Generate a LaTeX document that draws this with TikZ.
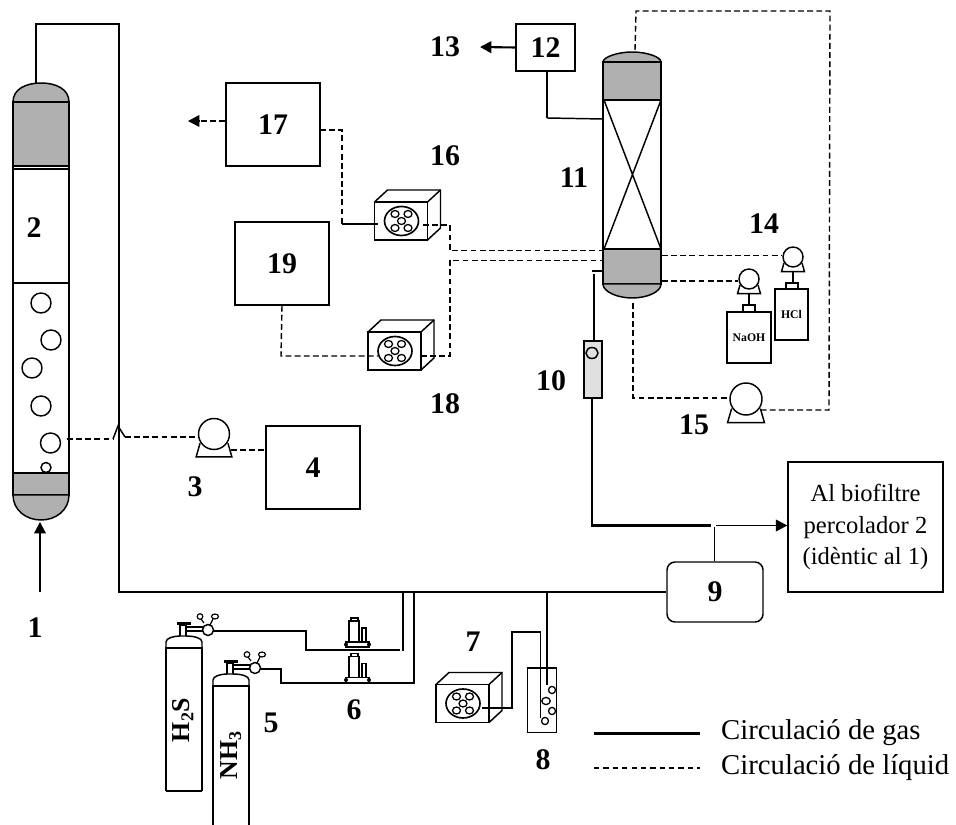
\documentclass[tikz,border=0pt]{standalone}
\usepackage{fontspec}
\setmainfont{Liberation Serif}
\usepackage{tikz}
\usetikzlibrary{arrows.meta, calc, positioning}
\tikzset{
  wall/.style     = {draw, line width=1.25pt},
  gas/.style      = {line width=1.8pt},
  gasthin/.style  = {line width=1.25pt},
  liquid/.style   = {line width=1.2pt, dash pattern=on 5pt off 2.8pt},
  tip/.style      = {-{Triangle[length=3.4mm, width=3.5mm]}},
  num/.style      = {font=\bfseries\fontsize{25.5}{25.5}\selectfont, inner sep=0pt},
  bigbox/.style   = {wall, num, minimum width=2.82cm, minimum height=2.49cm},
  txt/.style      = {font=\fontsize{21}{27}\selectfont, inner sep=0pt},
  legendtxt/.style= {font=\fontsize{24.5}{24.5}\selectfont, inner sep=0pt, anchor=west},
  fanfront/.style = {wall, inner sep=0pt, minimum width=1.59cm, minimum height=1.14cm},
  pumphead/.style = {circle, wall, inner sep=0pt, fill=white},
  tank/.style     = {wall, inner sep=0pt, fill=white},
  small/.style    = {font=\bfseries\fontsize{10}{10}\selectfont, inner sep=0pt},
  grayzone/.style = {fill=black!31, draw, line width=1.25pt},
}
\newcommand{\pumpsketch}[4]{%
  \node[pumphead, minimum size={#4*0.06cm}] (#1) at (#2,#3) {};
  \draw[line width=1.25pt] (#2-0.9*#4,#3+0.6*#4) -- (#2-1.15*#4,#3+1.47*#4) -- (#2+1.15*#4,#3+1.47*#4) -- (#2+0.9*#4,#3+0.6*#4);
}
\newcommand{\fansketch}[3]{%
  \begin{scope}[shift={(#2,#3)}]
    \node[fanfront] (#1) at (26.5,19) {};
    \draw[line width=1.25pt] (0,0) -- (13,-12) -- (66,-12) -- (66,26) -- (53,38);
    \draw[line width=1.25pt] (53,0) -- (66,-12);
    \draw[line width=1.4pt] (27,19) ellipse [x radius=17, y radius=14.5];
    \foreach \dx/\dy in {0/0,-6.5/-7,6.5/-7,-6.5/7,6.5/7}
      \draw[line width=1.1pt] (27+\dx,19+\dy) ellipse [x radius=4, y radius=3.5];
  \end{scope}
}
\newcommand{\cylsketch}[3]{%
  \begin{scope}[shift={(#1,#2)}]
    \draw[line width=1.25pt] (166,#3) -- (166,648) -- (202,648) -- (202,#3);
    \draw[line width=1.25pt] (166,648) -- (166,642) .. controls (166,638) and (174,636) .. (180,636) -- (186,636) .. controls (194,636) and (202,638) .. (202,642) -- (202,648);
    \draw[line width=1.25pt] (180,636) -- (180,625) -- (186,625) -- (186,636);
    \fill (177,622) rectangle (191,625);
    \draw[line width=1pt] (186,627) -- (203,627);
    \draw[line width=1pt] (186,631) -- (203,631);
    \draw[line width=1.25pt, fill=white] (208,630) circle [radius=5.5];
    \draw[line width=1pt] (204,623) -- (201,619);
    \draw[line width=1pt] (210,625) -- (213,619);
    \draw[line width=1pt] (200,616.5) circle [radius=2.8];
    \draw[line width=1pt] (215,616.5) ellipse [x radius=3.5, y radius=2.5];
  \end{scope}
}
\newcommand{\regsketch}[2]{%
  \begin{scope}[shift={(#1,#2)}]
    \draw[line width=1.25pt] (346,642) rectangle (369,647);
    \fill (346,644.5) circle [radius=2] (369,644.5) circle [radius=2];
    \draw[line width=1pt] (349,641) -- (349,621) -- (359,621) -- (359,641);
    \draw[line width=1.25pt] (351,621) -- (351,618) -- (358,618) -- (358,621);
    \draw[line width=1.2pt] (362,641) -- (362,628) -- (366,628) -- (366,641);
  \end{scope}
}
\begin{document}
\begin{tikzpicture}[x=0.03cm, y=-0.03cm]
  \useasboundingbox (0,0) rectangle (956,825);

  % column 2
  \draw[grayzone] (13,102) .. controls (13,89) and (26,83) .. (41,83) .. controls (56,83) and (69,89) .. (69,102) -- cycle;
  \draw[grayzone] (13,102) rectangle (69,166);
  \draw[wall] (13,169) rectangle (69,283);
  \draw[wall] (13,283) rectangle (69,473);
  \draw[line width=1.25pt] (13,166) -- (13,169) (69,166) -- (69,169);
  \draw[grayzone] (13,473) rectangle (69,495);
  \draw[grayzone] (13,495) .. controls (13,510) and (26,520) .. (41,520) .. controls (56,520) and (69,510) .. (69,495) -- cycle;
  \foreach \bx/\by/\br in {41/303/10,51/340/10,32/368/10,41/406/10,50.5/443/10,46/467.5/5}
    \draw[line width=1.25pt] (\bx,\by) circle [radius=\br];

  % column 11
  \draw[grayzone] (603,62) .. controls (603,57) and (618,52) .. (632,52) .. controls (647,52) and (661,57) .. (661,62) -- cycle;
  \draw[grayzone] (603,62) rectangle (661,100);
  \draw[wall] (603,100) rectangle (661,249);
  \draw[line width=1.25pt] (604,100) -- (661,249) (661,100) -- (604,249);
  \draw[line width=2.2pt] (603,100) -- (662,100);
  \draw[grayzone] (603,249) rectangle (661,284);
  \draw[grayzone] (603,284) .. controls (603,292) and (618,298) .. (632,298) .. controls (647,298) and (661,292) .. (661,284) -- cycle;

  % boxes with a number
  \node[bigbox] (box4) at (313,467.5) {4};
  \node[bigbox] (box17) at (273,124.5) {17};
  \node[bigbox] (box19) at (282,263.5) {19};
  \node[wall, num, minimum width=1.77cm, minimum height=1.41cm] (box12) at (545.5,47.5) {12};
  \node[wall, num, rounded corners=0.24cm, minimum width=2.88cm, minimum height=1.8cm] (box9) at (715,592) {9};
  \node[wall, txt, align=center, minimum width=4.65cm, minimum height=3.9cm] (bio) at (865.5,527) {Al biofiltre\\percolador 2\\(idèntic al 1)};

  % pumps, fans, tanks
  \pumpsketch{pump3}{214}{434}{15.5}
  \pumpsketch{pump15}{746}{399}{16}
  \pumpsketch{pumpN}{749}{279}{10}
  \pumpsketch{pumpH}{793}{257}{10}
  \fansketch{fan16}{374.5}{202}
  \fansketch{fan18}{368}{332}
  \fansketch{fan7}{436}{684.5}
  \node[tank, small, minimum width=1.32cm, minimum height=1.53cm] (naoh) at (749,337.5) {NaOH};
  \node[tank, small, minimum width=0.99cm, minimum height=1.53cm] (hcl) at (791.5,314.5) {HCl};
  \draw[line width=1.25pt] (749,293) -- (749,305) (793,271) -- (793,283);
  \draw[line width=1.25pt] (743,312) rectangle (755,305) (786,289) rectangle (798,283);
  \node[tank, fill=black!12, minimum width=0.54cm, minimum height=1.71cm] (flow) at (593,369.5) {};
  \draw[line width=1.25pt] (592,353) ellipse [x radius=6, y radius=5.5];
  \draw[wall] (527.7,668) rectangle (556.7,732.7);
  \foreach \bx/\by/\rx in {552/690/3.5,546/701/4.2,552/711/3.5,545/721/3.5}
    \draw[line width=1.1pt] (\bx,\by) ellipse [x radius=\rx, y radius=3.6];

  % gas cylinders and regulators
  \cylsketch{0}{0}{791}
  \draw[line width=1.25pt] (166,791) -- (202,791);
  \cylsketch{47}{38}{787}
  \node[font=\bfseries\fontsize{22}{22}\selectfont, inner sep=0pt, rotate=90] (h2s) at (183,720) {H\textsubscript{2}S};
  \node[font=\bfseries\fontsize{22}{22}\selectfont, inner sep=0pt, rotate=90] (nh3) at (231,755) {NH\textsubscript{3}};
  \regsketch{0}{0}
  \regsketch{0}{35.5}

  % gas circuit
  \coordinate (topA) at (36,84);
  \coordinate (inA) at (40,592);
  \draw[gas] (topA) -- (36,24) -- (119,24) -- (119,592) -- (box9.west);
  \draw[gasthin, tip] (inA) -- (40,522);
  \draw[gasthin] (403,592) -- (403,651);
  \draw[gasthin] (414,592) -- (414,683) -- (281,683) -- (281,669) -- (261,669);
  \draw[gasthin] (400,650) -- (306,650) -- (306,631) -- (213,631);
  \draw[gas] (547,592) -- (547,685);
  \draw[gasthin] (482,708) -- (512,708) -- (512,632) -- (540.5,632) -- (540.5,718);
  \draw[gas] (box12.south -| 547,71) -- (547,118);
  \draw[gasthin] (547,118) -- (603,119);
  \draw[gas, tip] (box12.west) -- (480,47);
  \draw[gas] (603,271) -- (592,271);
  \draw[gas] (594,274) -- (flow.north -| 594,341);
  \draw[gas] (592,398) -- (592,525.5) -- (710.5,525.5);
  \draw[gasthin, tip] (716,525.5) -- (bio.west |- 716,525.5);
  \draw[gasthin] (714.5,527) -- (box9.north -| 714.5,562);

  % liquid circuit
  \draw[liquid] (67,439) -- (113,439);
  \draw[gasthin] (113,439) -- (118,426) -- (125,437);
  \draw[liquid] (125,437) -- (pump3.west |- 125,437);
  \draw[liquid] (231,450) -- (box4.west |- 231,450);
  \coordinate (out17) at (200,121);
  \draw[liquid] (box17.west |- out17) -- (out17);
  \draw[gasthin, tip] (out17) -- (188,121);
  \draw[liquid] (320,130) -- (342,130) -- (342,224);
  \draw[gas] (342,224) -- (378,224);
  \draw[liquid] (423,225) -- (450,225) -- (450,250.5) -- (603,250.5);
  \draw[liquid] (421,356) -- (450,356) -- (450,260.5) -- (604,260.5);
  \draw[liquid] (box19.south) -- (281,356) -- (378,356);
  \draw[liquid] (635,50) -- (636,11) -- (830,11) -- (829,410) -- (760,410);
  \draw[liquid] (633,303) -- (633,398) -- (pump15.west |- 633,398);
  \draw[liquid] (662,255.5) -- (pumpH.west |- 662,255.5);
  \draw[liquid] (662,281) -- (pumpN.west |- 662,281);

  % number labels
  \foreach \n/\px/\py in {1/35/628,2/34/228,3/195/487,5/271/723,6/354/710,7/473/642,8/543/760,10/551/381,11/574/178,13/445/47,14/764/224,15/694/425,16/445/156,18/445/404}
    \node[num] (lab\n) at (\px,\py) {\n};

  % legend
  \coordinate (legA) at (594,733.5);
  \coordinate (legB) at (700,733.5);
  \coordinate (legC) at (594,768);
  \coordinate (legD) at (700,768);
  \draw[gas] (legA) -- (legB);
  \draw[line width=0.9pt, dash pattern=on 4.5pt off 3.5pt] (legC) -- (legD);
  \node[legendtxt] (gastxt) at (721,733) {Circulació de gas};
  \node[legendtxt] (liqtxt) at (721,768) {Circulació de líquid};
\end{tikzpicture}
\end{document}
